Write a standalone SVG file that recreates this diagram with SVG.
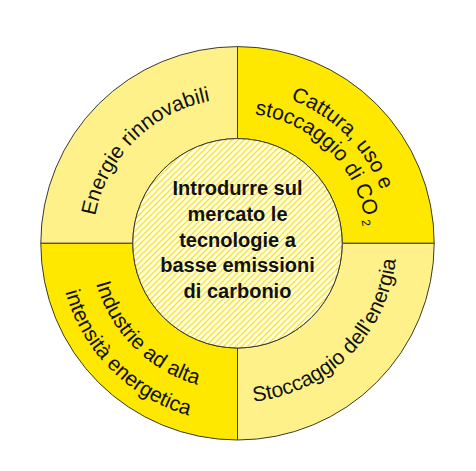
<svg xmlns="http://www.w3.org/2000/svg" xmlns:xlink="http://www.w3.org/1999/xlink" width="476" height="471" viewBox="0 0 476 471">
<style>
.q{stroke:#3a3a30;stroke-width:1}
.light{fill:#FFF18A}
.dark{fill:#FFE800}
.lbl{font-family:"Liberation Sans",Arial,sans-serif;font-size:21px;fill:#111}
.ctr{font-family:"Liberation Sans",Arial,sans-serif;font-size:20px;font-weight:bold;fill:#111;text-anchor:middle}
</style>
<defs>
<pattern id="hatch" patternUnits="userSpaceOnUse" width="6" height="6">
<rect width="6" height="6" fill="#fff"/>
<path d="M-1.5,1.5 L1.5,-1.5 M0,6 L6,0 M4.5,7.5 L7.5,4.5" stroke="#FFE800" stroke-width="1.4"/>
</pattern>
<path id="p-tl" d="M 92.5 243.3 A 145 145 0 0 1 237.5 98.3"/>
<path id="p-tr1" d="M 237.5 90.3 A 153 153 0 0 1 390.5 243.3"/>
<path id="p-tr2" d="M 237.5 113.3 A 130 130 0 0 1 367.5 243.3"/>
<path id="p-bl1" d="M 90.5 243.3 A 147 147 0 0 0 237.5 390.3"/>
<path id="p-bl2" d="M 58.5 243.3 A 179 179 0 0 0 237.5 422.3"/>
<path id="p-br" d="M 237.5 402.3 A 159 159 0 0 0 396.5 243.3"/>
</defs>
<rect width="476" height="471" fill="#fff"/>
<g id="connectors"></g>
<g id="node-energie">
<path class="q light" d="M 40.8 243.3 A 196.7 196.7 0 0 1 237.5 46.6 L 237.5 138.6 A 104.7 104.7 0 0 0 132.8 243.3 Z"/>
<text class="lbl"><textPath xlink:href="#p-tl" href="#p-tl" startOffset="50%" text-anchor="middle">Energie rinnovabili</textPath></text>
</g>
<g id="node-cattura">
<path class="q dark" d="M 237.5 46.6 A 196.7 196.7 0 0 1 434.2 243.3 L 342.2 243.3 A 104.7 104.7 0 0 0 237.5 138.6 Z"/>
<text class="lbl"><textPath xlink:href="#p-tr1" href="#p-tr1" startOffset="50%" text-anchor="middle">Cattura, uso e</textPath></text>
<text class="lbl"><textPath xlink:href="#p-tr2" href="#p-tr2" startOffset="50%" text-anchor="middle">stoccaggio di CO<tspan font-size="12" dx="3" dy="4">2</tspan></textPath></text>
</g>
<g id="node-stoccaggio">
<path class="q light" d="M 434.2 243.3 A 196.7 196.7 0 0 1 237.5 440 L 237.5 348 A 104.7 104.7 0 0 0 342.2 243.3 Z"/>
<text class="lbl"><textPath xlink:href="#p-br" href="#p-br" startOffset="50%" text-anchor="middle">Stoccaggio dell’energia</textPath></text>
</g>
<g id="node-industrie">
<path class="q dark" d="M 237.5 440 A 196.7 196.7 0 0 1 40.8 243.3 L 132.8 243.3 A 104.7 104.7 0 0 0 237.5 348 Z"/>
<text class="lbl"><textPath xlink:href="#p-bl1" href="#p-bl1" startOffset="50%" text-anchor="middle">Industrie ad alta</textPath></text>
<text class="lbl"><textPath xlink:href="#p-bl2" href="#p-bl2" startOffset="50%" text-anchor="middle">intensità energetica</textPath></text>
</g>
<g id="node-centro">
<circle class="q" cx="237.5" cy="243.3" r="104.7" fill="url(#hatch)"/>
<text class="ctr" x="237.5" y="195">Introdurre sul</text>
<text class="ctr" x="237.5" y="221">mercato le</text>
<text class="ctr" x="237.5" y="246.5">tecnologie a</text>
<text class="ctr" x="237.5" y="272">basse emissioni</text>
<text class="ctr" x="237.5" y="297.5">di carbonio</text>
</g>
</svg>
